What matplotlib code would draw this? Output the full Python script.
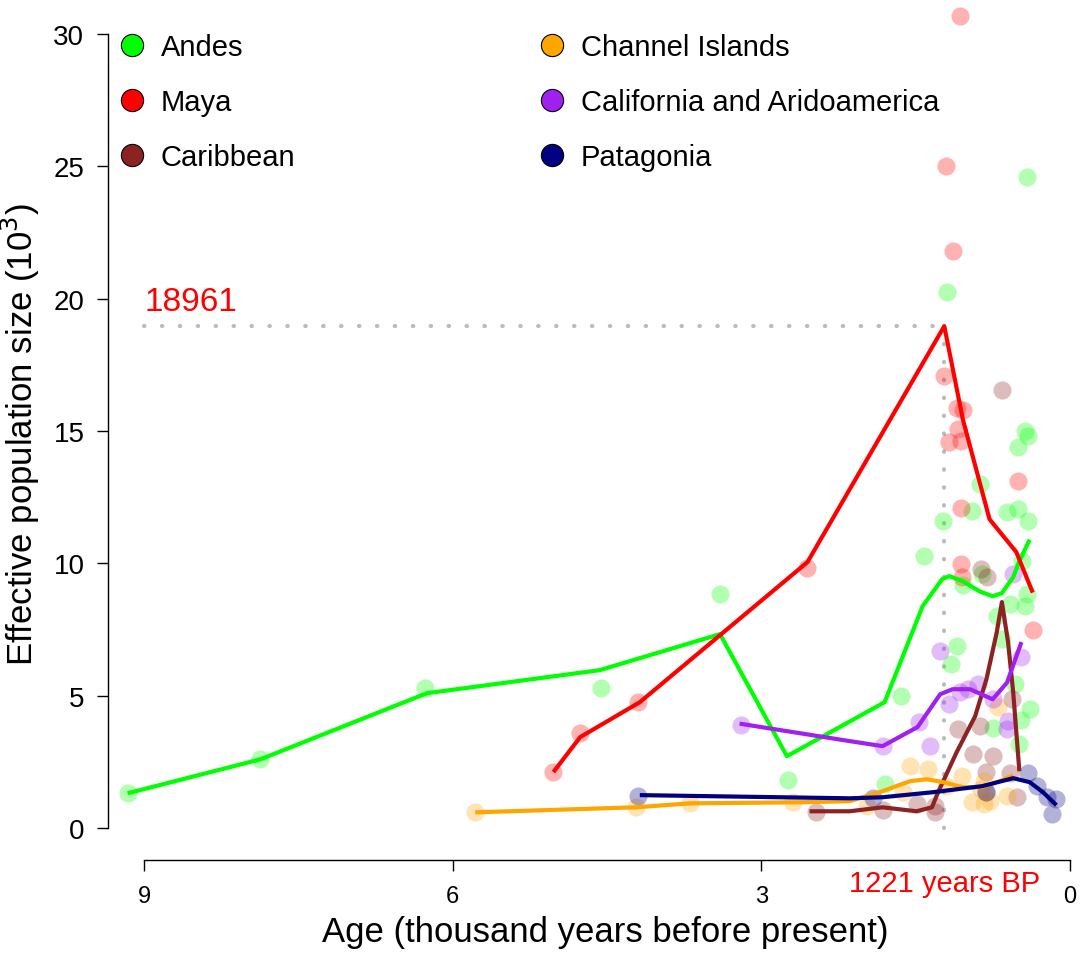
import matplotlib
matplotlib.use('Agg')
import matplotlib.pyplot as plt
from matplotlib.lines import Line2D

plt.rcParams['font.family'] = ['Liberation Sans', 'DejaVu Sans']

groups = ['Andes', 'Maya', 'Caribbean', 'Channel Islands',
          'California and Aridoamerica', 'Patagonia']
colors = ['#00FF00', '#FF0000', '#8B2323', '#FFA500', '#A020F0', '#000080']

# Ne estimates per sample (age in kyr BP, Ne in thousands)
andes_x = [9.16, 7.87, 6.27, 4.56, 3.40, 2.74, 1.80, 1.64, 1.42, 1.23, 1.19, 0.87,
           0.95, 0.61, 0.50, 0.41, 0.44, 0.41, 0.50, 0.46, 0.42, 1.10, 1.15, 1.04,
           0.71, 0.66, 0.58, 0.42, 0.44, 0.53, 0.39, 0.47, 0.75, 0.49, 0.85]
andes_y = [1.32, 2.6, 5.29, 5.29, 8.84, 1.81, 1.66, 4.99, 10.3, 11.6, 20.25, 13.0,
           11.98, 11.93, 12.05, 11.6, 15.0, 14.8, 14.4, 10.1, 24.6, 6.88, 6.2, 9.2,
           8.0, 7.14, 8.46, 8.84, 8.4, 5.44, 4.5, 4.1, 3.8, 3.17, 9.6]
maya_x = [5.02, 4.76, 4.20, 2.55, 1.07, 1.20, 1.14, 1.22, 1.10, 1.04, 1.09, 1.17,
          1.06, 0.50, 1.06, 1.06, 1.05, 0.36]
maya_y = [2.12, 3.59, 4.76, 9.82, 30.67, 25.0, 21.8, 17.08, 15.87, 15.8, 15.07, 14.58,
          14.62, 13.1, 12.09, 9.97, 9.47, 7.48]
carib_x = [2.47, 1.82, 1.49, 1.31, 1.31, 1.09, 0.94, 0.75, 0.81, 0.81, 0.51, 0.56,
           0.87, 0.66, 0.86, 0.80, 0.58]
carib_y = [0.6, 0.68, 0.91, 0.6, 0.83, 3.74, 2.8, 2.72, 2.11, 1.36, 1.17, 4.87,
           3.85, 16.55, 9.78, 9.5, 2.1]
chan_x = [5.78, 4.22, 3.69, 2.69, 1.97, 1.62, 1.55, 1.38, 1.05, 1.20, 0.95, 0.83,
          0.78, 0.83, 0.61, 0.70, 0.86]
chan_y = [0.6, 0.79, 0.94, 0.98, 0.83, 1.36, 2.34, 2.23, 1.96, 1.59, 0.98, 0.91,
          1.02, 1.78, 1.21, 4.57, 1.47]
calif_x = [3.2, 1.82, 1.47, 1.36, 1.26, 1.17, 1.07, 0.99, 0.89, 0.75, 0.61, 0.55,
           0.47, 0.60]
calif_y = [3.9, 3.1, 4.0, 3.1, 6.69, 4.68, 5.14, 5.25, 5.44, 4.87, 3.74, 9.6,
           6.46, 4.04]
patag_x = [4.2, 1.91, 0.81, 0.41, 0.32, 0.22, 0.13, 0.17]
patag_y = [1.21, 1.13, 1.36, 2.1, 1.59, 1.17, 1.1, 0.53]

# smoothed trend per group
andes_tx = [9.16, 7.87, 6.25, 4.57, 3.40, 2.75, 1.80, 1.43, 1.24, 1.17, 1.04, 0.88,
            0.75, 0.66, 0.55, 0.50, 0.39]
andes_ty = [1.32, 2.6, 5.1, 5.97, 7.33, 2.72, 4.76, 8.39, 9.41, 9.52, 9.33, 8.95,
            8.76, 8.88, 9.48, 10.0, 10.9]
maya_tx = [5.02, 4.76, 4.18, 2.55, 1.22, 1.04, 0.78, 0.52, 0.36]
maya_ty = [2.12, 3.44, 4.76, 10.05, 18.96, 15.45, 11.67, 10.43, 8.9]
carib_tx = [2.53, 2.14, 1.82, 1.49, 1.34, 1.28, 1.10, 0.92, 0.81, 0.71, 0.66, 0.60,
            0.55, 0.49]
carib_ty = [0.64, 0.64, 0.79, 0.64, 0.79, 1.36, 2.87, 4.23, 5.63, 7.40, 8.54, 7.03,
            5.14, 2.15]
chan_tx = [5.78, 4.22, 3.69, 2.62, 2.14, 1.82, 1.55, 1.39, 1.23, 1.04, 0.85, 0.68, 0.55]
chan_ty = [0.6, 0.79, 0.94, 0.98, 1.02, 1.40, 1.78, 1.85, 1.74, 1.55, 1.55, 1.78, 2.0]
calif_tx = [3.21, 2.14, 1.82, 1.48, 1.26, 1.14, 0.97, 0.75, 0.61, 0.47]
calif_ty = [3.95, 3.29, 3.1, 3.82, 5.06, 5.25, 5.25, 4.87, 5.5, 7.03]
patag_tx = [4.18, 2.14, 1.82, 1.33, 0.85, 0.55, 0.39, 0.26, 0.13]
patag_ty = [1.25, 1.13, 1.17, 1.36, 1.59, 1.89, 1.74, 1.36, 0.87]

peak_age = 1.221
peak_ne = 18.961

pts = [(andes_x, andes_y), (maya_x, maya_y), (carib_x, carib_y),
       (chan_x, chan_y), (calif_x, calif_y), (patag_x, patag_y)]
trends = [(andes_tx, andes_ty), (maya_tx, maya_ty), (carib_tx, carib_ty),
          (chan_tx, chan_ty), (calif_tx, calif_ty), (patag_tx, patag_ty)]

fig = plt.figure(figsize=(10.8, 9.54), dpi=100)
ax = fig.add_axes([108 / 1080, (954 - 861) / 954, (1078 - 108) / 1080, (861 - 8.4) / 954])

for (px, py), c in zip(pts, colors):
    ax.scatter(px, py, s=170, color=c, alpha=0.3, linewidths=0, zorder=2)

ax.plot([9, peak_age], [peak_ne, peak_ne], color='#BBBBBB', lw=3,
        linestyle=(0, (0.1, 4.2)), dash_capstyle='round', zorder=1)
ax.plot([peak_age, peak_age], [peak_ne, 0], color='#BBBBBB', lw=3,
        linestyle=(0, (0.1, 4.2)), dash_capstyle='round', zorder=1)

for (tx, ty), c in zip(trends, colors):
    ax.plot(tx, ty, color=c, lw=3, solid_capstyle='butt', zorder=3)

ax.text(8.54, 19.3, '18961', color='red', fontsize=24, ha='center', va='bottom')
ax.text(peak_age, -2.05, '1221 years BP', color='red', fontsize=21,
        ha='center', va='center', clip_on=False)

ax.set_xlim(9.35, -0.08)
ax.set_ylim(-1.2, 31)
for s in ['top', 'right']:
    ax.spines[s].set_visible(False)
ax.spines['left'].set_bounds(0, 30)
ax.spines['bottom'].set_bounds(0, 9)
ax.spines['left'].set_linewidth(1)
ax.spines['bottom'].set_linewidth(1)
ax.set_xticks([9, 6, 3, 0])
ax.set_xticklabels(['9', '6', '3', '0'])
ax.set_yticks([0, 5, 10, 15, 20, 25, 30])
ax.tick_params(axis='x', length=8, width=1, pad=10, labelsize=17)
ax.tick_params(axis='y', length=8, width=1, pad=9, labelsize=20)
ax.set_xlabel('Age (thousand years before present)', fontsize=25)
ax.xaxis.set_label_coords(0.513, -0.065)
ax.set_ylabel('Effective population size (10$^3$)', fontsize=25, labelpad=8)

handles = [Line2D([], [], marker='o', linestyle='none', markersize=16,
                  markerfacecolor=c, markeredgecolor='black', markeredgewidth=0.8)
           for c in colors]
leg_kw = dict(loc='upper left', bbox_transform=fig.transFigure, frameon=False,
              fontsize=21, handlelength=1.0, handletextpad=0.5,
              labelspacing=0.93, borderpad=0, borderaxespad=0)
leg1 = ax.legend(handles[:3], groups[:3], bbox_to_anchor=(117 / 1080, 1 - 34 / 954), **leg_kw)
ax.add_artist(leg1)
ax.legend(handles[3:], groups[3:], bbox_to_anchor=(537 / 1080, 1 - 34 / 954), **leg_kw)

fig.savefig('out.png', dpi=100)
